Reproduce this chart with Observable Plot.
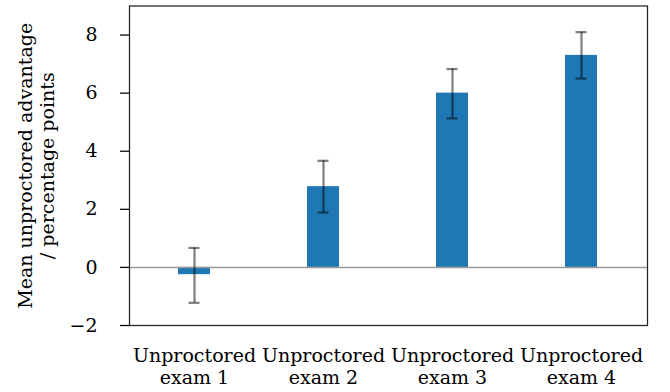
<!DOCTYPE html>
<html><head><meta charset="utf-8">
<script src="https://cdn.jsdelivr.net/npm/d3@7"></script>
<script src="https://cdn.jsdelivr.net/npm/@observablehq/plot@0.6"></script>
<style>body{margin:0;background:#fff}</style>
</head><body><div id="chart"></div>
<script>
const categories = ["exam 1", "exam 2", "exam 3", "exam 4"];
const tickLabels = ["Unproctored\nexam 1", "Unproctored\nexam 2", "Unproctored\nexam 3", "Unproctored\nexam 4"];
const means = [-0.25, 2.78, 6.0, 7.3];
const lower = [-1.22, 1.89, 5.13, 6.5];
const upper = [0.67, 3.67, 6.83, 8.1];
const yTicks = [-2, 0, 2, 4, 6, 8];
const yLabel = "Mean unproctored advantage\n/ percentage points";

const data = categories.map((c, i) => ({c, mean: means[i], lo: lower[i], hi: upper[i]}));

const chart = Plot.plot({
  width: 670, height: 392,
  marginLeft: 129, marginRight: 23, marginTop: 5.5, marginBottom: 67,
  style: {fontFamily: "DejaVu Serif", fontSize: "19px", background: "white", color: "black"},
  x: {domain: categories, paddingInner: 0.75, paddingOuter: 0.375},
  y: {domain: [-2, 9]},
  marks: [
    Plot.barY(data, {x: "c", y1: 0, y2: "mean", fill: "#1f77b4"}),
    Plot.ruleY([0], {stroke: "#999", strokeWidth: 1.5}),
    Plot.ruleX(data, {x: "c", y1: "lo", y2: "hi", stroke: "black", strokeOpacity: 0.5, strokeWidth: 2.2}),
    Plot.tickY(data, {x: "c", y: "lo", stroke: "black", strokeOpacity: 0.5, strokeWidth: 2.2, insetLeft: 10.5, insetRight: 10.5}),
    Plot.tickY(data, {x: "c", y: "hi", stroke: "black", strokeOpacity: 0.5, strokeWidth: 2.2, insetLeft: 10.5, insetRight: 10.5}),
    Plot.frame({stroke: "#222", strokeWidth: 1.25}),
    Plot.axisY({ticks: yTicks, tickSize: 9, tickPadding: 23, strokeWidth: 1.25,
      tickFormat: d => d < 0 ? "\u2212" + Math.abs(d) : String(d), label: null}),
    Plot.axisX({tickSize: 0, tickPadding: 21, lineHeight: 1.16, label: null,
      tickFormat: d => tickLabels[categories.indexOf(d)]}),
    Plot.text([yLabel], {frameAnchor: "left", dx: -76, rotate: -90, textAnchor: "middle", lineAnchor: "bottom", lineHeight: 1.12, text: d => d})
  ]
});
document.getElementById("chart").append(chart);
</script>
</body></html>
